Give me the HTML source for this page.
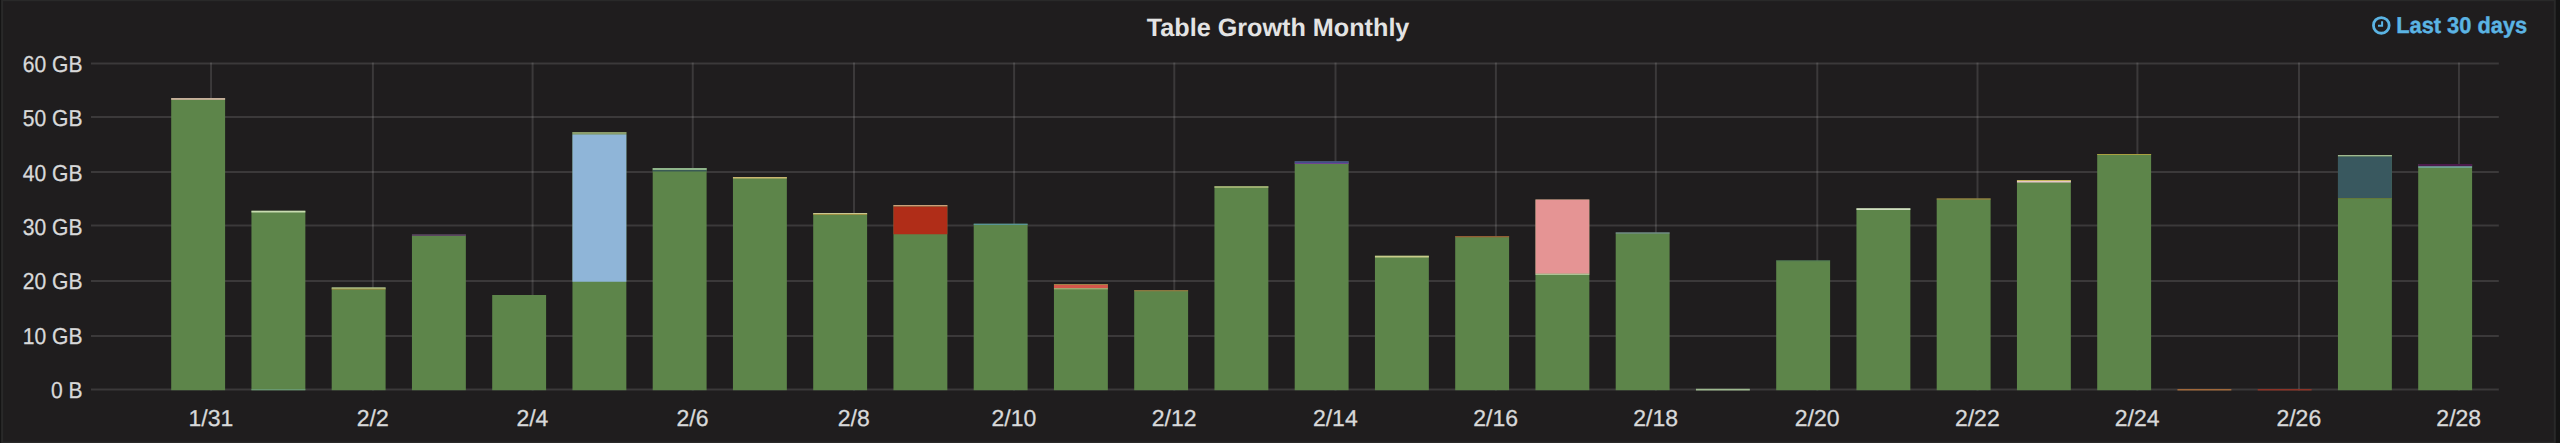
<!DOCTYPE html>
<html lang="en"><head><meta charset="utf-8"><title>Table Growth Monthly</title>
<style>html,body{margin:0;padding:0;background:#141414;width:2560px;height:443px;overflow:hidden}svg{display:block}
text{text-rendering:geometricPrecision;stroke:#d8d9da;stroke-width:0.3px;font-family:"Liberation Sans",sans-serif;fill:#d8d9da}
.yl{font-size:23px;text-anchor:end}.xl{font-size:23px;text-anchor:middle;letter-spacing:0px}
.title{font-size:25.2px;font-weight:bold;fill:#e3e3e3;stroke:none;text-anchor:middle}
.time{font-size:22.8px;font-weight:bold;fill:#5bb4e4;stroke:#5bb4e4;stroke-width:0.4px}
</style></head><body>
<svg width="2560" height="443" viewBox="0 0 2560 443">
<rect x="0" y="0" width="2560" height="443" fill="#141414"/>
<rect x="2.1" y="0.2" width="2552.7" height="442.5" fill="#1f1d1e" stroke="#292929" stroke-width="2"/>
<g stroke="rgba(208,206,206,0.16)" stroke-width="2" fill="none">
<line x1="91" y1="63.50" x2="2498.8" y2="63.50"/>
<line x1="91" y1="116.90" x2="2498.8" y2="116.90"/>
<line x1="91" y1="171.90" x2="2498.8" y2="171.90"/>
<line x1="91" y1="225.50" x2="2498.8" y2="225.50"/>
<line x1="91" y1="280.90" x2="2498.8" y2="280.90"/>
<line x1="91" y1="336.00" x2="2498.8" y2="336.00"/>
<line x1="91" y1="389.40" x2="2498.8" y2="389.40"/>
<line x1="211.05" y1="62.4" x2="211.05" y2="390.4"/>
<line x1="372.90" y1="62.4" x2="372.90" y2="390.4"/>
<line x1="532.60" y1="62.4" x2="532.60" y2="390.4"/>
<line x1="692.75" y1="62.4" x2="692.75" y2="390.4"/>
<line x1="854.00" y1="62.4" x2="854.00" y2="390.4"/>
<line x1="1014.10" y1="62.4" x2="1014.10" y2="390.4"/>
<line x1="1174.30" y1="62.4" x2="1174.30" y2="390.4"/>
<line x1="1335.50" y1="62.4" x2="1335.50" y2="390.4"/>
<line x1="1495.90" y1="62.4" x2="1495.90" y2="390.4"/>
<line x1="1655.90" y1="62.4" x2="1655.90" y2="390.4"/>
<line x1="1817.30" y1="62.4" x2="1817.30" y2="390.4"/>
<line x1="1977.50" y1="62.4" x2="1977.50" y2="390.4"/>
<line x1="2137.40" y1="62.4" x2="2137.40" y2="390.4"/>
<line x1="2299.00" y1="62.4" x2="2299.00" y2="390.4"/>
<line x1="2458.95" y1="62.4" x2="2458.95" y2="390.4"/>
</g>
<g>
<rect x="171.20" y="98.10" width="53.90" height="292.10" fill="#5d854a"/>
<rect x="171.20" y="98.10" width="53.90" height="1.70" fill="#d2b5a2"/>
<rect x="251.45" y="210.75" width="53.90" height="179.45" fill="#5d854a"/>
<rect x="251.45" y="210.75" width="53.90" height="1.75" fill="#c8dcb0"/>
<rect x="251.45" y="389.3" width="53.90" height="0.9" fill="#6fa080"/>
<rect x="331.70" y="287.50" width="53.90" height="102.70" fill="#5d854a"/>
<rect x="331.70" y="287.50" width="53.90" height="1.20" fill="#c9d6a0"/>
<rect x="331.70" y="288.70" width="53.90" height="0.80" fill="#a88a3a"/>
<rect x="411.95" y="234.50" width="53.90" height="155.70" fill="#5d854a"/>
<rect x="411.95" y="234.50" width="53.90" height="1.20" fill="#5a2a6a"/>
<rect x="492.20" y="295.00" width="53.90" height="95.20" fill="#5d854a"/>
<rect x="572.45" y="132.00" width="53.90" height="258.20" fill="#5d854a"/>
<rect x="572.45" y="132.00" width="53.90" height="2.50" fill="#8a9c6c"/>
<rect x="572.45" y="134.50" width="53.90" height="147.25" fill="#8fb5d8"/>
<rect x="652.70" y="168.00" width="53.90" height="222.20" fill="#5d854a"/>
<rect x="652.70" y="168.00" width="53.90" height="2.00" fill="#8fb48a"/>
<rect x="652.70" y="170.00" width="53.90" height="1.50" fill="#3a5a55"/>
<rect x="732.95" y="177.00" width="53.90" height="213.20" fill="#5d854a"/>
<rect x="732.95" y="177.00" width="53.90" height="1.50" fill="#c9b770"/>
<rect x="813.20" y="213.00" width="53.90" height="177.20" fill="#5d854a"/>
<rect x="813.20" y="213.00" width="53.90" height="1.20" fill="#c8c890"/>
<rect x="813.20" y="214.20" width="53.90" height="0.80" fill="#a89040"/>
<rect x="893.45" y="205.00" width="53.90" height="185.20" fill="#5d854a"/>
<rect x="893.45" y="205.00" width="53.90" height="1.50" fill="#c9a079"/>
<rect x="893.45" y="206.50" width="53.90" height="27.75" fill="#b02d18"/>
<rect x="973.70" y="223.75" width="53.90" height="166.45" fill="#5d854a"/>
<rect x="973.70" y="223.75" width="53.90" height="1.00" fill="#5a9ab0"/>
<rect x="1053.95" y="284.10" width="53.90" height="106.10" fill="#5d854a"/>
<rect x="1053.95" y="284.10" width="53.90" height="0.90" fill="#a8844a"/>
<rect x="1053.95" y="285.00" width="53.90" height="3.00" fill="#d4574a"/>
<rect x="1053.95" y="288.00" width="53.90" height="1.40" fill="#a0a870"/>
<rect x="1134.20" y="290.25" width="53.90" height="99.95" fill="#5d854a"/>
<rect x="1134.20" y="290.25" width="53.90" height="1.00" fill="#a07a40"/>
<rect x="1214.45" y="186.25" width="53.90" height="203.95" fill="#5d854a"/>
<rect x="1214.45" y="186.25" width="53.90" height="1.55" fill="#aebb7c"/>
<rect x="1294.70" y="161.25" width="53.90" height="228.95" fill="#5d854a"/>
<rect x="1294.70" y="161.25" width="53.90" height="1.75" fill="#434c88"/>
<rect x="1294.70" y="163.00" width="53.90" height="1.00" fill="#6e4690"/>
<rect x="1374.95" y="255.75" width="53.90" height="134.45" fill="#5d854a"/>
<rect x="1374.95" y="255.75" width="53.90" height="1.75" fill="#c8cc8a"/>
<rect x="1455.20" y="236.25" width="53.90" height="153.95" fill="#5d854a"/>
<rect x="1455.20" y="236.25" width="53.90" height="1.00" fill="#a85a30"/>
<rect x="1535.45" y="199.50" width="53.90" height="190.70" fill="#5d854a"/>
<rect x="1535.45" y="199.50" width="53.90" height="74.25" fill="#e59494"/>
<rect x="1535.45" y="273.75" width="53.90" height="1.00" fill="#c8d8b0"/>
<rect x="1615.70" y="232.50" width="53.90" height="157.70" fill="#5d854a"/>
<rect x="1615.70" y="232.50" width="53.90" height="1.00" fill="#7a90a0"/>
<rect x="1695.95" y="388.75" width="53.90" height="1.75" fill="#9db88f"/>
<rect x="1776.20" y="260.50" width="53.90" height="129.70" fill="#5d854a"/>
<rect x="1776.20" y="260.50" width="53.90" height="0.80" fill="#4f7a5a"/>
<rect x="1856.45" y="208.25" width="53.90" height="181.95" fill="#5d854a"/>
<rect x="1856.45" y="208.25" width="53.90" height="1.75" fill="#d0dcc0"/>
<rect x="1936.70" y="198.50" width="53.90" height="191.70" fill="#5d854a"/>
<rect x="1936.70" y="198.50" width="53.90" height="1.00" fill="#a8803a"/>
<rect x="2016.95" y="180.00" width="53.90" height="210.20" fill="#5d854a"/>
<rect x="2016.95" y="180.00" width="53.90" height="1.00" fill="#c8b860"/>
<rect x="2016.95" y="181.00" width="53.90" height="1.50" fill="#e8c8c8"/>
<rect x="2097.20" y="154.00" width="53.90" height="236.20" fill="#5d854a"/>
<rect x="2097.20" y="154.00" width="53.90" height="1.00" fill="#a8a040"/>
<rect x="2177.45" y="389.00" width="53.90" height="1.50" fill="#a0683a"/>
<rect x="2257.70" y="389.00" width="53.90" height="1.50" fill="#8c3327"/>
<rect x="2337.95" y="155.00" width="53.90" height="235.20" fill="#5d854a"/>
<rect x="2337.95" y="155.00" width="53.90" height="1.50" fill="#a0b890"/>
<rect x="2337.95" y="156.50" width="53.90" height="41.50" fill="#39585f"/>
<rect x="2337.95" y="198.00" width="53.90" height="0.90" fill="#66783a"/>
<rect x="2418.20" y="164.00" width="53.90" height="226.20" fill="#5d854a"/>
<rect x="2418.20" y="164.00" width="53.90" height="2.50" fill="#4c1a4c"/>
<rect x="2418.20" y="166.50" width="53.90" height="1.00" fill="#80c0d0"/>
</g>
<text class="yl" transform="translate(82.5,71.80) scale(0.915,1)">60 GB</text>
<text class="yl" transform="translate(82.5,126.17) scale(0.915,1)">50 GB</text>
<text class="yl" transform="translate(82.5,180.54) scale(0.915,1)">40 GB</text>
<text class="yl" transform="translate(82.5,234.91) scale(0.915,1)">30 GB</text>
<text class="yl" transform="translate(82.5,289.28) scale(0.915,1)">20 GB</text>
<text class="yl" transform="translate(82.5,343.65) scale(0.915,1)">10 GB</text>
<text class="yl" transform="translate(82.5,398.02) scale(0.915,1)">0 B</text>
<text class="xl" x="210.85" y="425.6">1/31</text>
<text class="xl" x="372.70" y="425.6">2/2</text>
<text class="xl" x="532.40" y="425.6">2/4</text>
<text class="xl" x="692.55" y="425.6">2/6</text>
<text class="xl" x="853.80" y="425.6">2/8</text>
<text class="xl" x="1013.90" y="425.6">2/10</text>
<text class="xl" x="1174.10" y="425.6">2/12</text>
<text class="xl" x="1335.30" y="425.6">2/14</text>
<text class="xl" x="1495.70" y="425.6">2/16</text>
<text class="xl" x="1655.70" y="425.6">2/18</text>
<text class="xl" x="1817.10" y="425.6">2/20</text>
<text class="xl" x="1977.30" y="425.6">2/22</text>
<text class="xl" x="2137.20" y="425.6">2/24</text>
<text class="xl" x="2298.80" y="425.6">2/26</text>
<text class="xl" x="2458.75" y="425.6">2/28</text>
<text class="title" x="1278.1" y="36.3">Table Growth Monthly</text>
<text class="time" transform="translate(2396.2,32.6) scale(0.957,1)">Last 30 days</text>
<g fill="none" stroke="#5bb4e4"><circle cx="2381.3" cy="25.4" r="7.85" stroke-width="2.8"/><path d="M2382.1 21.3V25.7H2378" stroke-width="2" stroke-linecap="butt" stroke-linejoin="miter"/></g>
</svg></body></html>
